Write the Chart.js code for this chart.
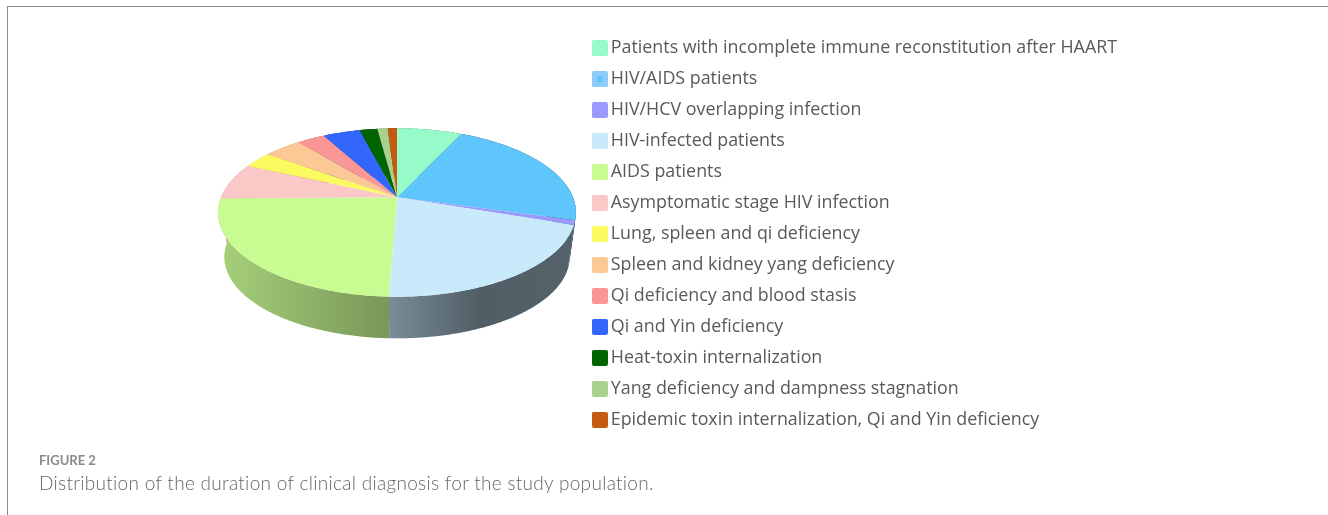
<!DOCTYPE html>
<html>
<head>
<meta charset="utf-8">
<script src="https://cdn.jsdelivr.net/npm/chart.js@4"></script>
<style>
  html, body { margin: 0; padding: 0; background: #fff; }
  body { width: 1328px; height: 515px; overflow: hidden; position: relative; }
  #frame { position: absolute; left: 7px; top: 6px; right: -2px; bottom: -2px; border: 1px solid #8c8c8c; }
  #chart { position: absolute; left: 0; top: 0; }
  #figLabel { position: absolute; left: 39px; top: 452px; font: 700 13px Lato, sans-serif; color: #8a8a8a; will-change: transform; }
  #figCaption { position: absolute; left: 39px; top: 471px; font: 300 19px Lato, sans-serif; color: #666; letter-spacing: 0.3px; will-change: transform; }
</style>
</head>
<body>
<div id="frame"></div>
<canvas id="chart" width="1127" height="468"></canvas>
<div id="figLabel">FIGURE 2</div>
<div id="figCaption">Distribution of the duration of clinical diagnosis for the study population.</div>
<script>
const categories = [
  "Patients with incomplete immune reconstitution after HAART",
  "HIV/AIDS patients",
  "HIV/HCV overlapping infection",
  "HIV-infected patients",
  "AIDS patients",
  "Asymptomatic stage HIV infection",
  "Lung, spleen and qi deficiency",
  "Spleen and kidney yang deficiency",
  "Qi deficiency and blood stasis",
  "Qi and Yin deficiency",
  "Heat-toxin internalization",
  "Yang deficiency and dampness stagnation",
  "Epidemic toxin internalization, Qi and Yin deficiency",
];
const shares = [7.0, 22.3, 0.9, 20.4, 24.2, 7.0, 3.1, 4.1, 3.0, 4.0, 1.9, 1.1, 1.0];
const colors = [
  "#96fbc8", "#5fc6fb", "#9a9afc", "#c9eafb", "#c9fb93", "#fbc8c8", "#fbfb5f",
  "#fbc896", "#fb9696", "#3366fb", "#006400", "#a9d18e", "#c55a11",
];
const swatchColors = colors.map((c, i) => (i === 1 ? "#8fcbfb" : c));

// tilted disc: camera looks down at the pie, so its centre sits above the middle of the ellipse
const disc = { cx: 397, cy: 197.3, a: 176, b: 81.46, k: -0.1805 };
const base = { scale: 0.965, cy: 242.4 };

function topPoint(angle) {
  const u = Math.cos(angle);
  const v = Math.sin(angle);
  const w = 1 + disc.k * v;
  return [disc.cx + (disc.a * u) / w, disc.cy + (disc.b * v) / w];
}

function basePoint(angle) {
  const [x, y] = topPoint(angle);
  return [disc.cx + base.scale * (x - disc.cx), base.cy + base.scale * (y - disc.cy)];
}

function arcPoints(pointAt, start, end) {
  const steps = Math.max(2, Math.ceil((end - start) / 0.01));
  const pts = [];
  for (let i = 0; i <= steps; i++) pts.push(pointAt(start + ((end - start) * i) / steps));
  return pts;
}

function tracePoly(ctx, pts) {
  ctx.beginPath();
  pts.forEach((p, i) => (i ? ctx.lineTo(p[0], p[1]) : ctx.moveTo(p[0], p[1])));
  ctx.closePath();
}

const tiltedPie = {
  id: "tiltedPie",
  beforeDatasetsDraw(chart) {
    const ctx = chart.ctx;
    const arcs = chart.getDatasetMeta(0).data;
    const shade = ctx.createLinearGradient(218, 0, 576, 0);
    shade.addColorStop(0, "rgba(0,0,0,0.17)");
    shade.addColorStop(0.48, "rgba(0,0,0,0.4)");
    shade.addColorStop(0.73, "rgba(0,0,0,0.6)");
    shade.addColorStop(1, "rgba(0,0,0,0.58)");

    // side wall first, the top face covers whatever is at the back
    arcs.forEach((arc, i) => {
      const rim = arcPoints(topPoint, arc.startAngle, arc.endAngle);
      const low = arcPoints(basePoint, arc.startAngle, arc.endAngle).reverse();
      tracePoly(ctx, rim.concat(low));
      ctx.fillStyle = colors[i];
      ctx.fill();
      ctx.fillStyle = shade;
      ctx.fill();
    });

    arcs.forEach((arc, i) => {
      const rim = arcPoints(topPoint, arc.startAngle, arc.endAngle);
      tracePoly(ctx, [[disc.cx, disc.cy]].concat(rim));
      ctx.fillStyle = colors[i];
      ctx.fill();
    });
    return false;
  },
};

function swatch(color, inner) {
  const c = document.createElement("canvas");
  c.width = 16;
  c.height = 16;
  const g = c.getContext("2d");
  g.fillStyle = color;
  g.beginPath();
  g.roundRect(0, 0, 16, 16, 2);
  g.fill();
  if (inner !== color) {
    g.fillStyle = inner;
    g.fillRect(5, 5, 6, 6);
  }
  return c;
}

new Chart(document.getElementById("chart"), {
  type: "pie",
  data: {
    labels: categories,
    datasets: [{ data: shares, backgroundColor: colors, borderWidth: 0 }],
  },
  plugins: [tiltedPie],
  options: {
    responsive: false,
    animation: false,
    plugins: {
      tooltip: { enabled: false },
      legend: {
        position: "right",
        labels: {
          color: "#595959",
          font: { family: "'Open Sans'", size: 17.85 },
          usePointStyle: true,
          boxWidth: 4.2,
          boxHeight: 16,
          padding: 13.1,
          generateLabels(chart) {
            return Chart.overrides.pie.plugins.legend.labels
              .generateLabels(chart)
              .map((item, i) => ({ ...item, pointStyle: swatch(swatchColors[i], colors[i]) }));
          },
        },
      },
    },
  },
});
</script>
</body>
</html>
